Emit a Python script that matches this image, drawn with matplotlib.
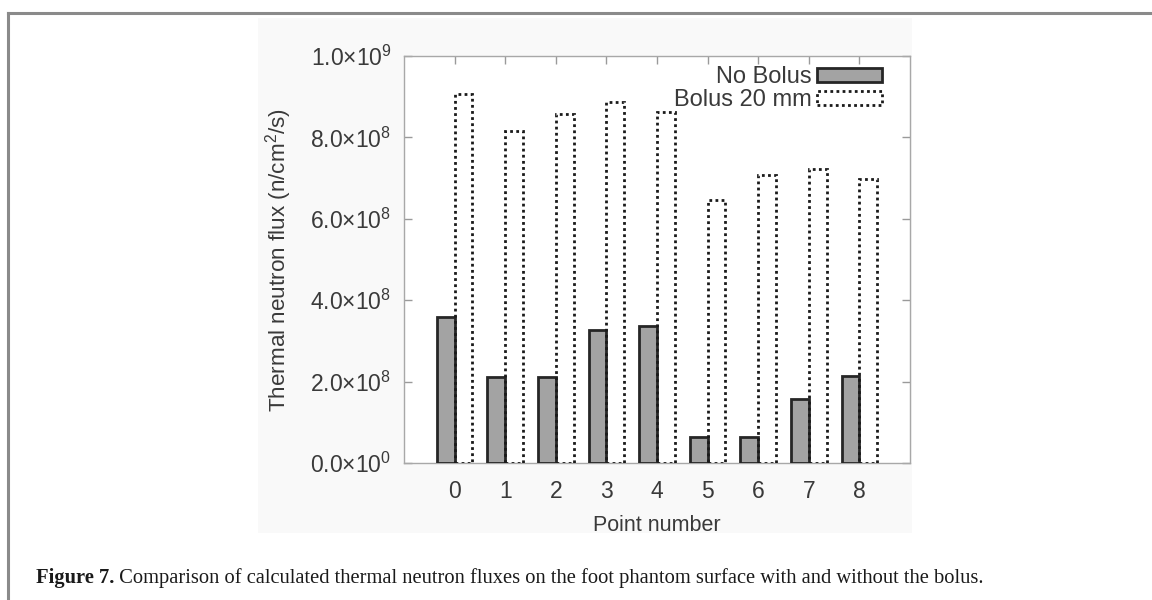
import matplotlib
matplotlib.use("Agg")
import matplotlib.pyplot as plt
from matplotlib.patches import Rectangle
from matplotlib.lines import Line2D
from matplotlib.ticker import FuncFormatter
import numpy as np

plt.rcParams['font.family'] = ['Liberation Sans', 'DejaVu Sans']
plt.rcParams['mathtext.fontset'] = 'custom'
plt.rcParams['mathtext.rm'] = 'Liberation Sans'
plt.rcParams['mathtext.it'] = 'Liberation Sans:italic'
plt.rcParams['mathtext.bf'] = 'Liberation Sans:bold'

points = [0, 1, 2, 3, 4, 5, 6, 7, 8]
no_bolus = [3.58e8, 2.11e8, 2.11e8, 3.27e8, 3.37e8, 0.65e8, 0.65e8, 1.57e8, 2.14e8]
bolus_20mm = [9.07e8, 8.16e8, 8.58e8, 8.86e8, 8.62e8, 6.46e8, 7.08e8, 7.22e8, 6.98e8]
series_labels = ["No Bolus", "Bolus 20 mm"]
y_ticks = [0, 2e8, 4e8, 6e8, 8e8, 1e9]
xlabel = "Point number"
ylabel = "Thermal neutron flux (n/cm$^{2}$/s)"
caption_bold = "Figure 7."
caption_rest = " Comparison of calculated thermal neutron fluxes on the foot phantom surface with and without the bolus."

W, H = 1152, 600
fig = plt.figure(figsize=(W / 100, H / 100), dpi=100)
fig.patch.set_facecolor("white")

# faint background of the embedded chart image
fig.patches.append(Rectangle((258 / W, 1 - 533 / H), (912 - 258) / W, (533 - 18) / H,
                             transform=fig.transFigure, facecolor="#f9f9f9",
                             edgecolor="none", zorder=-5))
# page frame lines (top and left)
fig.lines.append(Line2D([8 / W, 1.0], [1 - 13 / H, 1 - 13 / H], transform=fig.transFigure,
                        color="#8a8a8a", lw=2.2, zorder=-4))
fig.lines.append(Line2D([8 / W, 8 / W], [0.0, 1 - 13 / H], transform=fig.transFigure,
                        color="#8a8a8a", lw=2.2, zorder=-4))

ax = fig.add_axes([404 / W, 1 - 463 / H, (910 - 404) / W, (463 - 56) / H])
ax.set_zorder(5)
ax.set_facecolor("white")

txt = "#3a3a3a"
x = np.array(points, dtype=float)
bw = 0.35
ax.bar(x - bw / 2, no_bolus, width=bw, color="#a3a3a3", edgecolor="#262626",
       linewidth=2.0, label=series_labels[0], zorder=3)
ax.bar(x + bw / 2, bolus_20mm, width=bw, facecolor="none", edgecolor="#1a1a1a",
       linewidth=2.0, linestyle=(0, (1, 1.2)), label=series_labels[1], zorder=3)

ax.set_xlim(-1, 9)
ax.set_ylim(0, 1e9)
ax.set_xticks(points)
ax.set_yticks(y_ticks)


def fmt(v, pos):
    if v == 0:
        return "0.0×10$^{0}$"
    e = int(np.floor(np.log10(v)))
    m = v / 10 ** e
    return "%.1f×10$^{%d}$" % (m, e)


ax.yaxis.set_major_formatter(FuncFormatter(fmt))
ax.tick_params(direction="in", length=6, width=1, color="#9a9a9a",
               top=True, right=True, labelsize=16.5, labelcolor=txt)
ax.tick_params(axis="y", pad=9)
ax.tick_params(axis="x", pad=12)
for s in ax.spines.values():
    s.set_color("#a8a8a8")
    s.set_linewidth(1.0)

ax.set_xlabel(xlabel, fontsize=15.5, color=txt, labelpad=9)
ax.set_ylabel(ylabel, fontsize=16.2, color=txt, labelpad=12)

leg = ax.legend(loc="upper right", bbox_to_anchor=(0.945, 0.975), frameon=False,
                markerfirst=False, fontsize=17,
                handlelength=2.75, handleheight=0.55, handletextpad=0.25,
                labelspacing=0.05, borderaxespad=0.0, borderpad=0.0)
for t in leg.get_texts():
    t.set_color(txt)

cap_fs = 14.8
fig.text(36 / W, 1 - 583 / H, caption_bold, fontsize=cap_fs, fontweight="bold",
         family="Liberation Serif", color="#1a1a1a", va="baseline", ha="left")
bt = fig.texts[-1]
fig.canvas.draw()
bb = bt.get_window_extent()
fig.text(bb.x1 / W, 1 - 583 / H, caption_rest, fontsize=cap_fs,
         family="Liberation Serif", color="#1a1a1a", va="baseline", ha="left")

fig.savefig("out.png", dpi=100, facecolor="white")
